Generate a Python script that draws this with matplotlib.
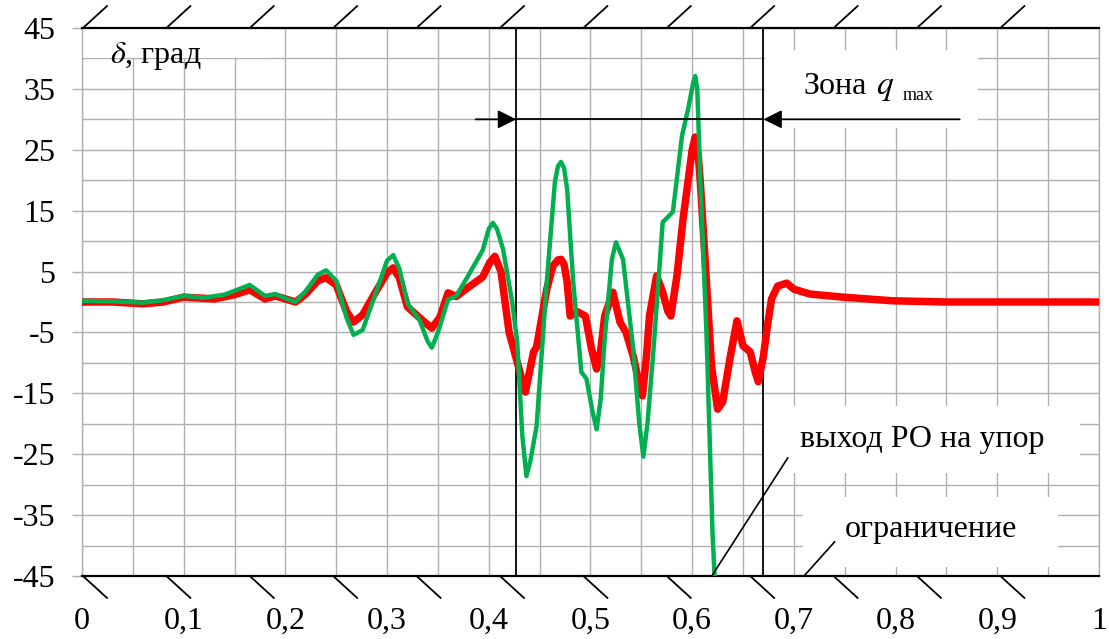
import numpy as np
import matplotlib.pyplot as plt
from matplotlib.patches import Rectangle

plt.rcParams['font.family'] = ['Liberation Serif', 'DejaVu Serif']
plt.rcParams['mathtext.fontset'] = 'stix'

# red curve (limited deflection)
x_red = [0, 0.03, 0.06, 0.08, 0.1, 0.13, 0.15, 0.165, 0.18, 0.19, 0.21, 0.22, 0.232, 0.24, 0.25,
         0.26, 0.267, 0.276, 0.29, 0.3, 0.306, 0.312, 0.32, 0.332, 0.344, 0.352, 0.36, 0.368,
         0.379, 0.394, 0.401, 0.406, 0.412, 0.42, 0.436, 0.444, 0.447, 0.457, 0.463, 0.468,
         0.471, 0.474, 0.477, 0.48, 0.487, 0.495, 0.501, 0.506, 0.51, 0.514, 0.522, 0.529,
         0.535, 0.542, 0.548, 0.551, 0.555, 0.558, 0.565, 0.571, 0.576, 0.579, 0.585, 0.591,
         0.6, 0.603, 0.606, 0.608, 0.614, 0.619, 0.625, 0.63, 0.637, 0.644, 0.65, 0.657,
         0.662, 0.665, 0.67, 0.674, 0.678, 0.684, 0.693, 0.7, 0.716,
         0.748, 0.797, 0.85, 0.9, 1.0]
y_red = [0, 0, -0.3, 0, 0.8, 0.5, 1.2, 2.0, 0.5, 1.0, 0, 1.3, 3.5, 4, 2.8,
         -1.5, -3.3, -2.1, 2, 4.8, 5.6, 4, -0.8, -2.6, -4.3, -2.5, 1.5, 0.9,
         2.3, 4.1, 6.5, 7.5, 5, -5, -14.8, -8.2, -7.4, 2.1, 5.9, 6.9,
         7, 6.2, 3.3, -2.3, -1.6, -2.3, -7.7, -11, -8, -2.3, 1.6, -3.3,
         -5, -8.9, -13.5, -15.4, -9, -2.3, 4.3, 1.6, -1.5, -2.3, 4.3, 13.6,
         25, 27.1, 24, 19.7, 3.3, -10.5, -17.6, -16.4, -9.4, -3.1, -7.2, -8.2,
         -11.5, -13.1, -8.9, -3.9, 0.5, 2.6, 3.1, 2.1, 1.3,
         0.8, 0.2, 0, 0, 0]

# green curve (reaches the stop)
x_green = [0, 0.03, 0.06, 0.08, 0.1, 0.12, 0.14, 0.165, 0.18, 0.19, 0.2, 0.21, 0.22,
           0.232, 0.24, 0.25, 0.26, 0.267, 0.276, 0.29, 0.3, 0.306, 0.312, 0.32, 0.332,
           0.34, 0.344, 0.35, 0.36, 0.368, 0.379, 0.394, 0.4, 0.404, 0.408, 0.414, 0.423,
           0.428, 0.433, 0.437, 0.441, 0.447, 0.457, 0.465, 0.468, 0.471, 0.474, 0.477,
           0.483, 0.491, 0.496, 0.502, 0.506, 0.51, 0.514, 0.521, 0.525, 0.532, 0.542,
           0.548, 0.552, 0.556, 0.562, 0.571, 0.581, 0.59, 0.596, 0.601, 0.603, 0.605,
           0.608, 0.614, 0.62, 0.622]
y_green = [0.2, 0.1, -0.1, 0.3, 1.0, 0.7, 1.2, 2.8, 1.0, 1.3, 0.6, 0, 1.8,
           4.5, 5.2, 3.5, -2.5, -5.4, -4.6, 2, 6.8, 7.7, 5.5, -0.2, -3,
           -6.5, -7.5, -5, 0.4, 1.0, 4.1, 8.5, 12, 13, 12, 8.7, 0,
           -6.6, -22, -28.6, -26, -20.4, 3.3, 19.7, 22.3, 23, 22, 18.6,
           3.3, -11.5, -12.6, -18, -20.9, -16, -6, 7, 9.8, 7, -7.7,
           -20, -25.4, -20, -7.7, 13.1, 14.8, 27.3, 31.7, 36, 37.1, 35,
           20, -5, -38, -45]

x_ticks = [0, 0.1, 0.2, 0.3, 0.4, 0.5, 0.6, 0.7, 0.8, 0.9, 1.0]
x_labels = ['0', '0,1', '0,2', '0,3', '0,4', '0,5', '0,6', '0,7', '0,8', '0,9', '1']
y_ticks = [-45, -35, -25, -15, -5, 5, 15, 25, 35, 45]
y_labels = ['-45', '-35', '-25', '-15', '-5', '5', '15', '25', '35', '45']

zone_left = 0.427
zone_right = 0.670
arrow_y = 30


def main():
    fig = plt.figure(figsize=(11.09, 6.39), dpi=100)
    ax = fig.add_axes([0.0739, 0.0986, 0.9171, 0.8576])
    ax.set_xlim(0, 1)
    ax.set_ylim(-45, 45)

    ax.set_xticks(x_ticks)
    ax.set_xticklabels(x_labels)
    ax.set_xticks(np.arange(0.05, 1, 0.1), minor=True)
    ax.set_yticks(y_ticks)
    ax.set_yticklabels(y_labels)
    ax.set_yticks(np.arange(-40, 45, 10), minor=True)
    ax.grid(True, which='both', color='#b0b0b0', lw=1.0, zorder=0)
    ax.set_axisbelow(True)
    ax.tick_params(axis='x', which='both', length=0, pad=22, labelsize=23)
    ax.tick_params(axis='y', which='major', length=7, width=1, color='#b0b0b0',
                   pad=12, labelsize=23)
    ax.tick_params(axis='y', which='minor', length=0)
    for s in ['left', 'right']:
        ax.spines[s].set_color('#b0b0b0')
        ax.spines[s].set_linewidth(1.0)
    for s in ['top', 'bottom']:
        ax.spines[s].set_color('black')
        ax.spines[s].set_linewidth(1.6)

    # hatching of the stop limits
    for xh in np.linspace(0.001, 0.903, 12):
        ax.plot([xh, xh + 0.0236], [45, 48.6], color='black', lw=1.3, clip_on=False)
        ax.plot([xh, xh + 0.0236], [-45, -48.6], color='black', lw=1.3, clip_on=False)

    # white label boxes
    boxes = [(0.0, 40.1, 0.185, 4.9), (0.672, 28.6, 0.209, 12.8),
             (0.67, -28.1, 0.311, 11.1), (0.709, -43.5, 0.251, 11.5)]
    for bx, by, bw, bh in boxes:
        ax.add_patch(Rectangle((bx, by), bw, bh, facecolor='white',
                               edgecolor='none', zorder=1))

    # zone boundaries
    ax.plot([zone_left, zone_left], [-45, 45], color='black', lw=1.3, zorder=2)
    ax.plot([zone_right, zone_right], [-45, 45], color='black', lw=1.3, zorder=2)

    ax.plot(x_red, y_red, color='#ff0000', lw=5.4, solid_joinstyle='round',
            solid_capstyle='round', zorder=3)
    ax.plot(x_green, y_green, color='#00b050', lw=3.2, solid_joinstyle='round',
            solid_capstyle='round', zorder=4)

    # zone arrows
    ax.plot([zone_left, zone_right], [arrow_y, arrow_y], color='black', lw=1.3, zorder=5)
    astyle = dict(arrowstyle='-|>,head_length=0.8,head_width=0.4', color='black',
                  lw=1.3, mutation_scale=14, shrinkA=0, shrinkB=0)
    ax.annotate('', xy=(zone_left, arrow_y), xytext=(0.387, arrow_y),
                arrowprops=astyle, zorder=5)
    ax.annotate('', xy=(zone_right, arrow_y), xytext=(0.863, arrow_y),
                arrowprops=astyle, zorder=5)

    ax.text(0.0275, 39.25, r'$\delta$, град', fontsize=23, zorder=6)
    ax.text(0.709, 34.2, 'Зона', fontsize=23, zorder=6)
    ax.text(0.781, 34.2, r'$q$', fontsize=24, zorder=6)
    ax.text(0.807, 33.2, 'max', fontsize=13, zorder=6)

    ax.text(0.706, -23.8, 'выход РО на упор', fontsize=23, zorder=6)
    ax.text(0.75, -38.6, 'ограничение', fontsize=23, zorder=6)
    ax.plot([0.694, 0.620], [-25.6, -44.8], color='black', lw=1.2, zorder=6)
    ax.plot([0.740, 0.711], [-39.4, -44.8], color='black', lw=1.2, zorder=6)

    fig.savefig('out.png', dpi=100)


if __name__ == '__main__':
    main()
